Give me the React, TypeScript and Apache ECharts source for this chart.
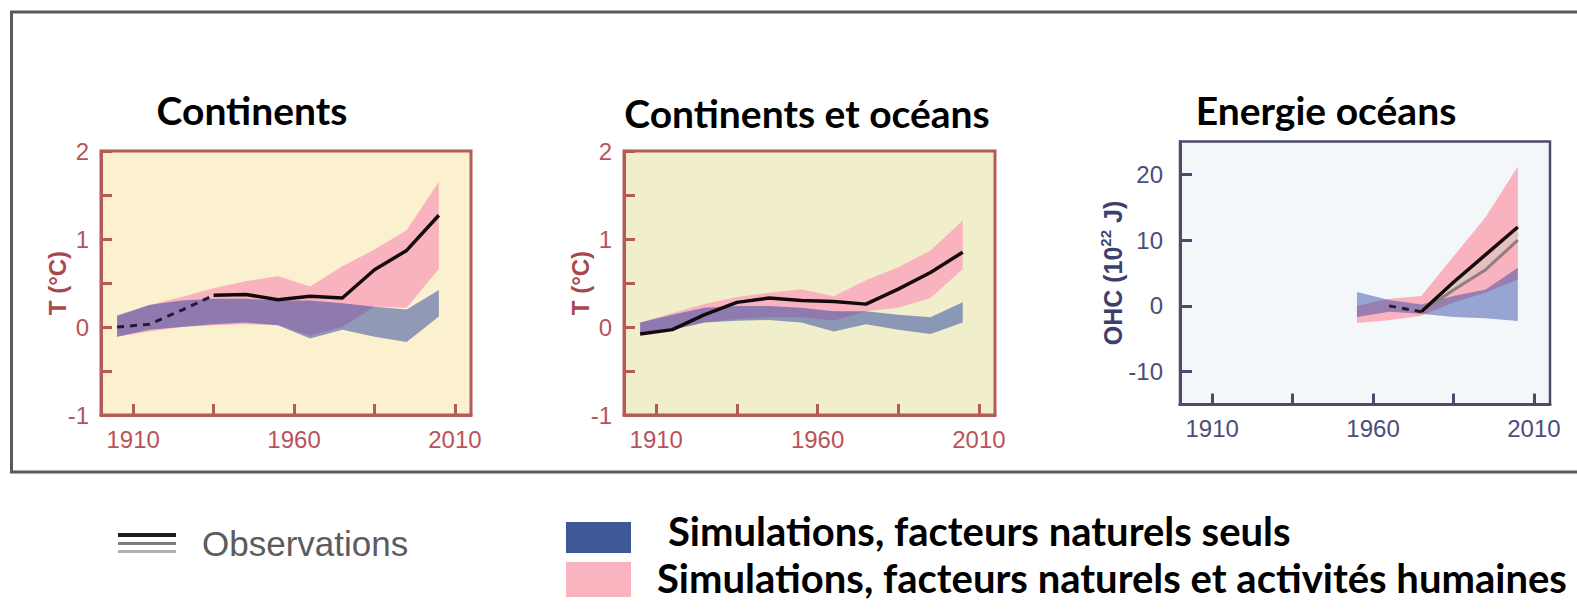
import React, { useEffect, useRef } from "react";
import * as echarts from "echarts";

// Decade midpoints shared by the two temperature panels
const decades = [1905, 1915, 1925, 1935, 1945, 1955, 1965, 1975, 1985, 1995, 2005];

// Continents: observed anomaly (°C) and model ranges
const landObs = [0.0, 0.03, 0.19, 0.36, 0.37, 0.31, 0.35, 0.33, 0.65, 0.87, 1.27];
const landObsDashedUntil = 3; // early decades with sparse coverage
const landAllLow = [-0.11, -0.05, 0.0, 0.02, 0.03, 0.02, -0.1, 0.0, 0.23, 0.22, 0.66];
const landAllHigh = [0.12, 0.25, 0.34, 0.44, 0.52, 0.58, 0.46, 0.69, 0.88, 1.1, 1.65];
const landNatLow = [-0.11, -0.03, 0.0, 0.03, 0.05, 0.02, -0.13, -0.03, -0.11, -0.17, 0.12];
const landNatHigh = [0.13, 0.25, 0.3, 0.32, 0.32, 0.3, 0.3, 0.27, 0.23, 0.2, 0.42];

// Continents et océans
const globObs = [-0.08, -0.03, 0.14, 0.28, 0.33, 0.3, 0.29, 0.26, 0.43, 0.62, 0.85];
const globAllLow = [-0.08, -0.03, 0.05, 0.09, 0.11, 0.11, 0.07, 0.18, 0.22, 0.33, 0.66];
const globAllHigh = [0.05, 0.16, 0.26, 0.34, 0.39, 0.43, 0.35, 0.53, 0.68, 0.87, 1.21];
const globNatLow = [-0.07, -0.03, 0.05, 0.07, 0.08, 0.05, -0.05, 0.03, -0.03, -0.08, 0.05];
const globNatHigh = [0.05, 0.14, 0.22, 0.24, 0.24, 0.22, 0.18, 0.18, 0.14, 0.11, 0.28];

// Energie océans: ocean heat content (10^22 J)
const ohcYears = [1955, 1965, 1975, 1985, 1995, 2005];
const ohcAllLow = [-2.6, -2.2, -1.5, 0.5, 2.0, 4.0];
const ohcAllHigh = [0.0, 1.1, 1.5, 7.5, 13.5, 21.2];
const ohcNatLow = [-1.7, -0.9, -1.2, -1.7, -1.9, -2.3];
const ohcNatHigh = [2.1, 0.9, 0.2, 1.5, 2.5, 5.8];
const ohcObsYears = [1965, 1975, 1985, 1995, 2005];
const ohcObs = [0.0, -0.9, 3.6, 7.8, 12.0];
const ohcObs2 = [null, -0.9, 2.4, 5.5, 10.0];
const ohcObs3 = [null, -0.9, 3.0, 6.7, 11.0];
const ohcObsDashedUntil = 1;

const yearTicks = [1910, 1935, 1960, 1985, 2010];
const yearLabels = [1910, 1960, 2010];
const tempLabels = [-1, 0, 1, 2];
const ohcTicks = [-10, 0, 10, 20];

const titles = ["Continents", "Continents et océans", "Energie océans"];
const legendObs = "Observations";
const legendNat = "Simulations, facteurs naturels seuls";
const legendAll = "Simulations, facteurs naturels et activités humaines";

const PINK = "#f8b3bf";
const BLUE = "#26419f";
const RED_AXIS = "#b25b58";
const RED_TEXT = "#b9535a";
const NAVY_AXIS = "#4b4b6b";
const NAVY_TEXT = "#4c4d78";
const OBS = "#140a0c";
const AXIS_FONT = "Liberation Sans, Arial, sans-serif";
const TITLE_FONT = "Lato, 'Open Sans', sans-serif";

function pairs(xs: number[], ys: (number | null)[], from = 0, to = xs.length - 1) {
  const out: (number | null)[][] = [];
  for (let i = from; i <= to; i++) if (ys[i] !== null) out.push([xs[i], ys[i]]);
  return out;
}

// A shaded range between two curves, drawn as one polygon through the axis scales
function band(idx: number, xs: number[], low: number[], high: number[], color: string, opacity: number) {
  return {
    type: "custom",
    xAxisIndex: idx,
    yAxisIndex: idx,
    silent: true,
    data: xs.map((x, i) => [x, low[i], high[i]]),
    encode: { x: 0, y: [1, 2] },
    renderItem: (params: any, api: any) => {
      if (params.dataIndexInside !== 0) return null;
      const n = params.dataInsideLength;
      const top: number[][] = [];
      const bottom: number[][] = [];
      for (let i = 0; i < n; i++) {
        const x = api.value(0, i);
        top.push(api.coord([x, api.value(2, i)]));
        bottom.push(api.coord([x, api.value(1, i)]));
      }
      return {
        type: "polygon",
        shape: { points: top.concat(bottom.reverse()) },
        style: { fill: color, opacity },
      };
    },
  };
}

function line(idx: number, data: (number | null)[][], color: string, width: number, dashed = false) {
  return {
    type: "line",
    xAxisIndex: idx,
    yAxisIndex: idx,
    data,
    symbol: "none",
    silent: true,
    z: 5,
    lineStyle: { color, width, type: dashed ? [7, 6] : "solid", cap: "butt", join: "round" },
  };
}

function xAxis(idx: number, color: string, textColor: string) {
  return {
    type: "value",
    gridIndex: idx,
    min: 1900,
    max: 2015,
    splitLine: { show: false },
    axisLine: { onZero: false, lineStyle: { color, width: 3 } },
    axisTick: { inside: true, length: 11, lineStyle: { color, width: 3 }, customValues: yearTicks },
    axisLabel: {
      customValues: yearLabels,
      formatter: (v: number) => String(v),
      color: textColor,
      fontSize: 24,
      fontFamily: AXIS_FONT,
      margin: 12,
    },
  };
}

export default function App() {
  const ref = useRef<HTMLDivElement>(null);

  useEffect(() => {
    if (!ref.current) return;
    const chart = echarts.init(ref.current, undefined, { renderer: "svg" });

    const tempY = (idx: number) => ({
      type: "value",
      gridIndex: idx,
      min: -1,
      max: 2,
      interval: 0.5,
      splitLine: { show: false },
      axisLine: { onZero: false, lineStyle: { color: RED_AXIS, width: 3 } },
      axisTick: { inside: true, length: 11, lineStyle: { color: RED_AXIS, width: 3 } },
      axisLabel: {
        customValues: tempLabels,
        color: RED_TEXT,
        fontSize: 24,
        fontFamily: AXIS_FONT,
        margin: 12,
      },
      name: "T (°C)",
      nameLocation: "middle",
      nameRotate: 90,
      nameGap: 32,
      nameMoveOverlap: false,
      nameTextStyle: {
        color: "#a9484c",
        fontSize: 24,
        fontWeight: "bold",
        fontFamily: AXIS_FONT,
      },
    });

    const option = {
      animation: false,
      backgroundColor: "#ffffff",
      grid: [
        { left: 101, top: 151, width: 370, height: 264, show: true, backgroundColor: "#fcf1cf", borderColor: RED_AXIS, borderWidth: 3 },
        { left: 624, top: 151, width: 371, height: 264, show: true, backgroundColor: "#f1eecb", borderColor: RED_AXIS, borderWidth: 3 },
        { left: 1180, top: 141.5, width: 370, height: 263, show: true, backgroundColor: "#f3f7fa", borderColor: NAVY_AXIS, borderWidth: 2.5 },
      ],
      xAxis: [xAxis(0, RED_AXIS, RED_TEXT), xAxis(1, RED_AXIS, RED_TEXT), xAxis(2, NAVY_AXIS, NAVY_TEXT)],
      yAxis: [
        tempY(0),
        tempY(1),
        {
          type: "value",
          gridIndex: 2,
          min: -15,
          max: 25,
          splitLine: { show: false },
          axisLine: { onZero: false, lineStyle: { color: NAVY_AXIS, width: 3 } },
          axisTick: { inside: true, length: 12, lineStyle: { color: NAVY_AXIS, width: 3 }, customValues: ohcTicks },
          axisLabel: {
            customValues: ohcTicks,
            color: NAVY_TEXT,
            fontSize: 24,
            fontFamily: AXIS_FONT,
            margin: 17,
          },
          name: "OHC (10{sup|22} J)",
          nameLocation: "middle",
          nameRotate: 90,
          nameGap: 52,
          nameMoveOverlap: false,
          nameTextStyle: {
            color: "#3d3f6e",
            fontSize: 25,
            fontWeight: "bold",
            fontFamily: AXIS_FONT,
            lineHeight: 30,
            rich: {
              sup: {
                fontSize: 15,
                fontWeight: "bold",
                color: "#3d3f6e",
                fontFamily: AXIS_FONT,
                verticalAlign: "top",
                lineHeight: 30,
              },
            },
          },
        },
      ],
      series: [
        band(0, decades, landAllLow, landAllHigh, PINK, 1),
        band(0, decades, landNatLow, landNatHigh, BLUE, 0.5),
        line(0, pairs(decades, landObs, 0, landObsDashedUntil), "#2a1830", 3, true),
        line(0, pairs(decades, landObs, landObsDashedUntil), OBS, 3.5),

        band(1, decades, globAllLow, globAllHigh, PINK, 1),
        band(1, decades, globNatLow, globNatHigh, BLUE, 0.5),
        line(1, pairs(decades, globObs), OBS, 3.5),

        band(2, ohcYears, ohcAllLow, ohcAllHigh, PINK, 1),
        band(2, ohcYears, ohcNatLow, ohcNatHigh, BLUE, 0.45),
        line(2, pairs(ohcObsYears, ohcObs3), "#d9c9bd", 4),
        line(2, pairs(ohcObsYears, ohcObs2), "#8d7f80", 3),
        line(2, pairs(ohcObsYears, ohcObs, 0, ohcObsDashedUntil), "#2a1830", 3, true),
        line(2, pairs(ohcObsYears, ohcObs, ohcObsDashedUntil), OBS, 3.5),
      ],
      graphic: [
        {
          type: "rect",
          silent: true,
          shape: { x: 11.5, y: 12, width: 2000, height: 460 },
          style: { fill: "none", stroke: "#5a5a5a", lineWidth: 3 },
          z: -1,
        },
        ...[
          { text: titles[0], x: 252, y: 110 },
          { text: titles[1], x: 807, y: 113 },
          { text: titles[2], x: 1326, y: 110 },
        ].map((t) => ({
          type: "text",
          silent: true,
          x: t.x,
          y: t.y,
          style: {
            text: t.text,
            fill: "#000",
            font: `bold 39px ${TITLE_FONT}`,
            textAlign: "center",
            textVerticalAlign: "middle",
          },
        })),
        // Observations legend key: three stacked strokes
        { type: "line", silent: true, shape: { x1: 118, y1: 535, x2: 176, y2: 535 }, style: { stroke: "#1e1e1e", lineWidth: 4 } },
        { type: "line", silent: true, shape: { x1: 118, y1: 543.5, x2: 176, y2: 543.5 }, style: { stroke: "#7d7d7d", lineWidth: 3 } },
        { type: "line", silent: true, shape: { x1: 118, y1: 551.5, x2: 176, y2: 551.5 }, style: { stroke: "#b0b0b0", lineWidth: 3 } },
        {
          type: "text",
          silent: true,
          x: 202,
          y: 543,
          style: {
            text: legendObs,
            fill: "#5c5c5c",
            font: `35px ${AXIS_FONT}`,
            textAlign: "left",
            textVerticalAlign: "middle",
          },
        },
        { type: "rect", silent: true, shape: { x: 566, y: 522, width: 65, height: 31 }, style: { fill: "#3d5997" } },
        { type: "rect", silent: true, shape: { x: 566, y: 562, width: 65, height: 35 }, style: { fill: "#f9b4c0" } },
        {
          type: "text",
          silent: true,
          x: 668,
          y: 531,
          style: {
            text: legendNat,
            fill: "#000",
            font: `bold 40px ${TITLE_FONT}`,
            textAlign: "left",
            textVerticalAlign: "middle",
          },
        },
        {
          type: "text",
          silent: true,
          x: 657,
          y: 578,
          style: {
            text: legendAll,
            fill: "#000",
            font: `bold 40px ${TITLE_FONT}`,
            textAlign: "left",
            textVerticalAlign: "middle",
          },
        },
      ],
    };

    chart.setOption(option as any);
    return () => chart.dispose();
  }, []);

  return (
    <div
      ref={ref}
      style={{ position: "fixed", left: 0, top: 0, width: 1577, height: 615, background: "#fff" }}
    />
  );
}
